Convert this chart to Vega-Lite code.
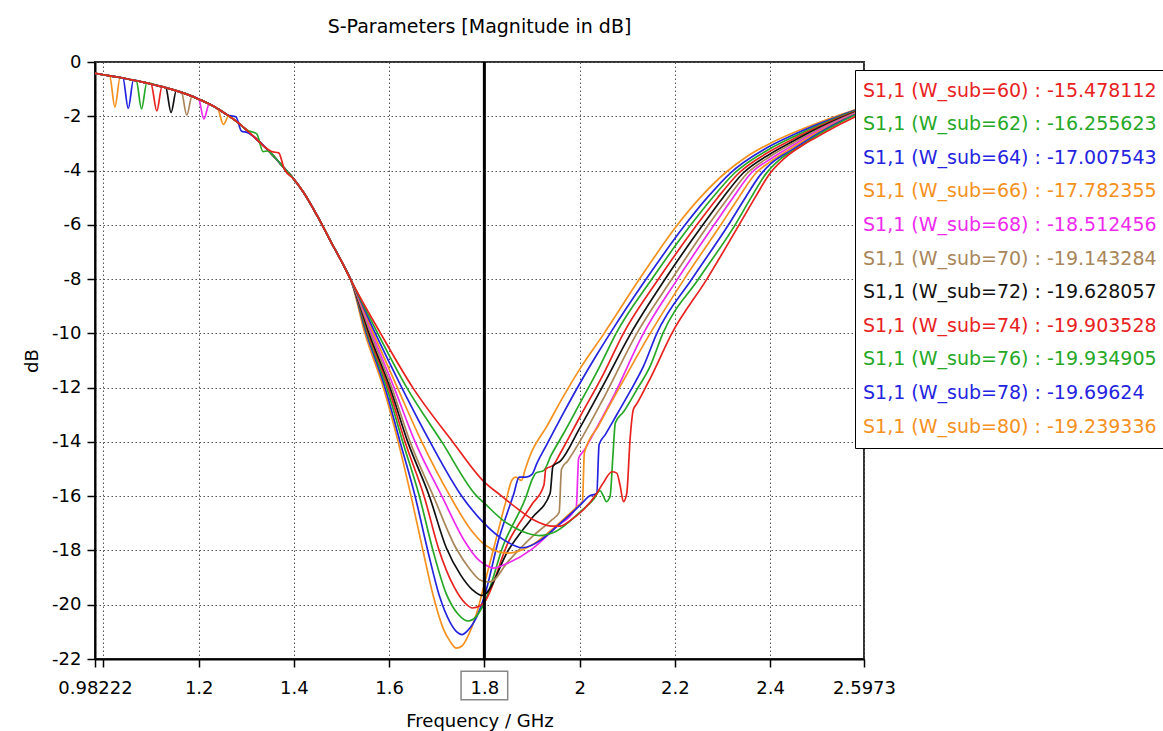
{
"$schema": "https://vega.github.io/schema/vega-lite/v6.json",
"width": 769, "height": 597,
"autosize": {"type": "none"},
"padding": {"left": 95, "top": 62, "right": 299, "bottom": 72},
"background": "white",
"title": {"text": "S-Parameters [Magnitude in dB]", "font": "DejaVu Sans", "fontSize": 19, "fontWeight": "normal", "color": "#000", "offset": 16, "anchor": "middle"},
"config": {"view": {"stroke": "#333", "strokeWidth": 2}, "font": "DejaVu Sans"},
"datasets": {
"names": [
{"w":60,"name":"S1,1 (W_sub=60) : -15.478112"},
{"w":62,"name":"S1,1 (W_sub=62) : -16.255623"},
{"w":64,"name":"S1,1 (W_sub=64) : -17.007543"},
{"w":66,"name":"S1,1 (W_sub=66) : -17.782355"},
{"w":68,"name":"S1,1 (W_sub=68) : -18.512456"},
{"w":70,"name":"S1,1 (W_sub=70) : -19.143284"},
{"w":72,"name":"S1,1 (W_sub=72) : -19.628057"},
{"w":74,"name":"S1,1 (W_sub=74) : -19.903528"},
{"w":76,"name":"S1,1 (W_sub=76) : -19.934905"},
{"w":78,"name":"S1,1 (W_sub=78) : -19.69624"},
{"w":80,"name":"S1,1 (W_sub=80) : -19.239336"}
],
"curves": [
{"w":80,"f":0.98222,"v":-0.42},{"w":80,"f":1.0,"v":-0.47},{"w":80,"f":1.013,"v":-0.51},{"w":80,"f":1.024,"v":-1.66},{"w":80,"f":1.035,"v":-0.575},{"w":80,"f":1.06,"v":-0.66},{"w":80,"f":1.08,"v":-0.73},{"w":80,"f":1.1,"v":-0.81},{"w":80,"f":1.12,"v":-0.9},{"w":80,"f":1.14,"v":-0.99},{"w":80,"f":1.16,"v":-1.1},{"w":80,"f":1.18,"v":-1.22},{"w":80,"f":1.2,"v":-1.37},{"w":80,"f":1.22,"v":-1.53},{"w":80,"f":1.24,"v":-1.72},{"w":80,"f":1.26,"v":-1.95},{"w":80,"f":1.28,"v":-2.2},{"w":80,"f":1.3,"v":-2.5},{"w":80,"f":1.32,"v":-2.82},{"w":80,"f":1.34,"v":-3.15},{"w":80,"f":1.36,"v":-3.52},{"w":80,"f":1.38,"v":-3.92},{"w":80,"f":1.4,"v":-4.32},{"w":80,"f":1.42,"v":-4.8},{"w":80,"f":1.45,"v":-5.7},{"w":80,"f":1.48,"v":-6.7},{"w":80,"f":1.5,"v":-7.35},{"w":80,"f":1.52,"v":-8.05},
{"w":80,"f":1.549,"v":-10},{"w":80,"f":1.588,"v":-12},{"w":80,"f":1.619,"v":-14},{"w":80,"f":1.646,"v":-16},{"w":80,"f":1.671,"v":-18},{"w":80,"f":1.693,"v":-19.7},{"w":80,"f":1.714,"v":-20.9},{"w":80,"f":1.728,"v":-21.35},{"w":80,"f":1.741,"v":-21.6},{"w":80,"f":1.753,"v":-21.52},{"w":80,"f":1.763,"v":-21.25},{"w":80,"f":1.784,"v":-20.3},{"w":80,"f":1.8,"v":-19.24},{"w":80,"f":1.82,"v":-17.9},{"w":80,"f":1.845,"v":-16.2},{"w":80,"f":1.858,"v":-15.4},{"w":80,"f":1.866,"v":-15.3},{"w":80,"f":1.878,"v":-15.42},{"w":80,"f":1.886,"v":-15.0},{"w":80,"f":1.896,"v":-14.5},{"w":80,"f":1.931,"v":-13.43},{"w":80,"f":1.966,"v":-12.32},{"w":80,"f":2.001,"v":-11.3},{"w":80,"f":2.0515,"v":-10},{"w":80,"f":2.1257,"v":-8},{"w":80,"f":2.2056,"v":-6},{"w":80,"f":2.2532,"v":-5},{"w":80,"f":2.305,"v":-4.1},{"w":80,"f":2.35,"v":-3.5},{"w":80,"f":2.4,"v":-3.0},{"w":80,"f":2.45,"v":-2.6},{"w":80,"f":2.5,"v":-2.25},{"w":80,"f":2.55,"v":-1.93},{"w":80,"f":2.5973,"v":-1.65},

{"w":78,"f":0.98222,"v":-0.42},{"w":78,"f":1.0,"v":-0.47},{"w":78,"f":1.02,"v":-0.53},{"w":78,"f":1.041,"v":-0.59},{"w":78,"f":1.052,"v":-1.71},{"w":78,"f":1.063,"v":-0.67},{"w":78,"f":1.08,"v":-0.73},{"w":78,"f":1.1,"v":-0.81},{"w":78,"f":1.12,"v":-0.9},{"w":78,"f":1.14,"v":-0.99},{"w":78,"f":1.16,"v":-1.1},{"w":78,"f":1.18,"v":-1.22},{"w":78,"f":1.2,"v":-1.37},{"w":78,"f":1.22,"v":-1.53},{"w":78,"f":1.24,"v":-1.72},{"w":78,"f":1.26,"v":-1.95},{"w":78,"f":1.28,"v":-2.2},{"w":78,"f":1.3,"v":-2.5},{"w":78,"f":1.32,"v":-2.82},{"w":78,"f":1.34,"v":-3.15},{"w":78,"f":1.36,"v":-3.52},{"w":78,"f":1.38,"v":-3.92},{"w":78,"f":1.4,"v":-4.32},{"w":78,"f":1.42,"v":-4.8},{"w":78,"f":1.45,"v":-5.7},{"w":78,"f":1.48,"v":-6.7},{"w":78,"f":1.5,"v":-7.35},{"w":78,"f":1.52,"v":-8.05},
{"w":78,"f":1.552,"v":-10},{"w":78,"f":1.5914,"v":-12},{"w":78,"f":1.623,"v":-14},{"w":78,"f":1.6545,"v":-16},{"w":78,"f":1.681,"v":-18},{"w":78,"f":1.706,"v":-19.7},{"w":78,"f":1.728,"v":-20.65},{"w":78,"f":1.742,"v":-21.0},{"w":78,"f":1.753,"v":-21.1},{"w":78,"f":1.765,"v":-20.95},{"w":78,"f":1.785,"v":-20.4},{"w":78,"f":1.8,"v":-19.7},{"w":78,"f":1.83,"v":-17.6},{"w":78,"f":1.862,"v":-15.9},{"w":78,"f":1.873,"v":-15.3},{"w":78,"f":1.888,"v":-15.3},{"w":78,"f":1.9,"v":-15.2},{"w":78,"f":1.91,"v":-14.8},{"w":78,"f":1.931,"v":-14.1},{"w":78,"f":1.966,"v":-12.94},{"w":78,"f":2.001,"v":-11.83},{"w":78,"f":2.036,"v":-10.79},{"w":78,"f":2.0641,"v":-10},{"w":78,"f":2.1398,"v":-8},{"w":78,"f":2.2217,"v":-6},{"w":78,"f":2.268,"v":-5},{"w":78,"f":2.316,"v":-4.1},{"w":78,"f":2.4,"v":-3.097},{"w":78,"f":2.45,"v":-2.675},{"w":78,"f":2.5,"v":-2.299},{"w":78,"f":2.55,"v":-1.96},{"w":78,"f":2.5973,"v":-1.668},

{"w":76,"f":0.98222,"v":-0.42},{"w":76,"f":1.0,"v":-0.47},{"w":76,"f":1.02,"v":-0.53},{"w":76,"f":1.04,"v":-0.59},{"w":76,"f":1.06,"v":-0.66},{"w":76,"f":1.069,"v":-0.69},{"w":76,"f":1.08,"v":-1.73},{"w":76,"f":1.091,"v":-0.77},{"w":76,"f":1.12,"v":-0.9},{"w":76,"f":1.14,"v":-0.99},{"w":76,"f":1.16,"v":-1.1},{"w":76,"f":1.18,"v":-1.22},{"w":76,"f":1.2,"v":-1.37},{"w":76,"f":1.22,"v":-1.53},{"w":76,"f":1.24,"v":-1.72},{"w":76,"f":1.26,"v":-1.95},{"w":76,"f":1.28,"v":-2.2},{"w":76,"f":1.3,"v":-2.5},{"w":76,"f":1.32,"v":-2.82},{"w":76,"f":1.34,"v":-3.15},{"w":76,"f":1.36,"v":-3.52},{"w":76,"f":1.38,"v":-3.92},{"w":76,"f":1.4,"v":-4.32},{"w":76,"f":1.42,"v":-4.8},{"w":76,"f":1.45,"v":-5.7},{"w":76,"f":1.48,"v":-6.7},{"w":76,"f":1.5,"v":-7.35},{"w":76,"f":1.52,"v":-8.05},
{"w":76,"f":1.554,"v":-10},{"w":76,"f":1.595,"v":-12},{"w":76,"f":1.6286,"v":-14},{"w":76,"f":1.6635,"v":-16},{"w":76,"f":1.692,"v":-18},{"w":76,"f":1.72,"v":-19.6},{"w":76,"f":1.745,"v":-20.35},{"w":76,"f":1.7665,"v":-20.6},{"w":76,"f":1.782,"v":-20.45},{"w":76,"f":1.8,"v":-19.93},{"w":76,"f":1.84,"v":-17.8},{"w":76,"f":1.888,"v":-16.0},{"w":76,"f":1.9,"v":-15.4},{"w":76,"f":1.908,"v":-15.15},{"w":76,"f":1.925,"v":-15.05},{"w":76,"f":1.94,"v":-14.5},{"w":76,"f":1.966,"v":-13.7},{"w":76,"f":2.0,"v":-12.6},{"w":76,"f":2.04,"v":-11.3},{"w":76,"f":2.0767,"v":-10},{"w":76,"f":2.1518,"v":-8},{"w":76,"f":2.2337,"v":-6},{"w":76,"f":2.279,"v":-5},{"w":76,"f":2.325,"v":-4.1},{"w":76,"f":2.4,"v":-3.194},{"w":76,"f":2.45,"v":-2.75},{"w":76,"f":2.5,"v":-2.348},{"w":76,"f":2.55,"v":-1.99},{"w":76,"f":2.5973,"v":-1.686},

{"w":74,"f":0.98222,"v":-0.42},{"w":74,"f":1.0,"v":-0.47},{"w":74,"f":1.02,"v":-0.53},{"w":74,"f":1.04,"v":-0.59},{"w":74,"f":1.06,"v":-0.66},{"w":74,"f":1.08,"v":-0.73},{"w":74,"f":1.1,"v":-0.81},{"w":74,"f":1.112,"v":-1.8},{"w":74,"f":1.123,"v":-0.91},{"w":74,"f":1.14,"v":-0.99},{"w":74,"f":1.16,"v":-1.1},{"w":74,"f":1.18,"v":-1.22},{"w":74,"f":1.2,"v":-1.37},{"w":74,"f":1.22,"v":-1.53},{"w":74,"f":1.24,"v":-1.72},{"w":74,"f":1.26,"v":-1.95},{"w":74,"f":1.28,"v":-2.2},{"w":74,"f":1.3,"v":-2.5},{"w":74,"f":1.32,"v":-2.82},{"w":74,"f":1.34,"v":-3.15},{"w":74,"f":1.36,"v":-3.52},{"w":74,"f":1.38,"v":-3.92},{"w":74,"f":1.4,"v":-4.32},{"w":74,"f":1.42,"v":-4.8},{"w":74,"f":1.45,"v":-5.7},{"w":74,"f":1.48,"v":-6.7},{"w":74,"f":1.5,"v":-7.35},{"w":74,"f":1.52,"v":-8.05},
{"w":74,"f":1.556,"v":-10},{"w":74,"f":1.5984,"v":-12},{"w":74,"f":1.6335,"v":-14},{"w":74,"f":1.6734,"v":-16},{"w":74,"f":1.705,"v":-18},{"w":74,"f":1.735,"v":-19.3},{"w":74,"f":1.76,"v":-19.95},{"w":74,"f":1.775,"v":-20.12},{"w":74,"f":1.79,"v":-20.05},{"w":74,"f":1.8,"v":-19.9},{"w":74,"f":1.85,"v":-17.7},{"w":74,"f":1.9,"v":-16.3},{"w":74,"f":1.925,"v":-15.6},{"w":74,"f":1.929,"v":-15.0},{"w":74,"f":1.945,"v":-14.85},{"w":74,"f":1.96,"v":-14.4},{"w":74,"f":2.0,"v":-13.1},{"w":74,"f":2.05,"v":-11.5},{"w":74,"f":2.0921,"v":-10},{"w":74,"f":2.1657,"v":-8},{"w":74,"f":2.2463,"v":-6},{"w":74,"f":2.29,"v":-5},{"w":74,"f":2.334,"v":-4.1},{"w":74,"f":2.4,"v":-3.291},{"w":74,"f":2.45,"v":-2.825},{"w":74,"f":2.5,"v":-2.397},{"w":74,"f":2.55,"v":-2.02},{"w":74,"f":2.5973,"v":-1.704},

{"w":72,"f":0.98222,"v":-0.42},{"w":72,"f":1.0,"v":-0.47},{"w":72,"f":1.02,"v":-0.53},{"w":72,"f":1.04,"v":-0.59},{"w":72,"f":1.06,"v":-0.66},{"w":72,"f":1.08,"v":-0.73},{"w":72,"f":1.1,"v":-0.81},{"w":72,"f":1.12,"v":-0.9},{"w":72,"f":1.131,"v":-0.95},{"w":72,"f":1.142,"v":-1.86},{"w":72,"f":1.153,"v":-1.06},{"w":72,"f":1.18,"v":-1.22},{"w":72,"f":1.2,"v":-1.37},{"w":72,"f":1.22,"v":-1.53},{"w":72,"f":1.24,"v":-1.72},{"w":72,"f":1.26,"v":-1.95},{"w":72,"f":1.28,"v":-2.2},{"w":72,"f":1.3,"v":-2.5},{"w":72,"f":1.32,"v":-2.82},{"w":72,"f":1.34,"v":-3.15},{"w":72,"f":1.36,"v":-3.52},{"w":72,"f":1.38,"v":-3.92},{"w":72,"f":1.4,"v":-4.32},{"w":72,"f":1.42,"v":-4.8},{"w":72,"f":1.45,"v":-5.7},{"w":72,"f":1.48,"v":-6.7},{"w":72,"f":1.5,"v":-7.35},{"w":72,"f":1.52,"v":-8.05},
{"w":72,"f":1.558,"v":-10},{"w":72,"f":1.6019,"v":-12},{"w":72,"f":1.6391,"v":-14},{"w":72,"f":1.6845,"v":-16},{"w":72,"f":1.72,"v":-17.9},{"w":72,"f":1.75,"v":-18.9},{"w":72,"f":1.775,"v":-19.45},{"w":72,"f":1.795,"v":-19.66},{"w":72,"f":1.8,"v":-19.63},{"w":72,"f":1.85,"v":-18.0},{"w":72,"f":1.9,"v":-16.8},{"w":72,"f":1.938,"v":-15.9},{"w":72,"f":1.944,"v":-14.9},{"w":72,"f":1.96,"v":-14.7},{"w":72,"f":2.0,"v":-13.5},{"w":72,"f":2.05,"v":-11.9},{"w":72,"f":2.1076,"v":-10},{"w":72,"f":2.1797,"v":-8},{"w":72,"f":2.2589,"v":-6},{"w":72,"f":2.301,"v":-5},{"w":72,"f":2.343,"v":-4.1},{"w":72,"f":2.4,"v":-3.388},{"w":72,"f":2.45,"v":-2.9},{"w":72,"f":2.5,"v":-2.446},{"w":72,"f":2.55,"v":-2.05},{"w":72,"f":2.5973,"v":-1.722},

{"w":70,"f":0.98222,"v":-0.42},{"w":70,"f":1.0,"v":-0.47},{"w":70,"f":1.02,"v":-0.53},{"w":70,"f":1.04,"v":-0.59},{"w":70,"f":1.06,"v":-0.66},{"w":70,"f":1.08,"v":-0.73},{"w":70,"f":1.1,"v":-0.81},{"w":70,"f":1.12,"v":-0.9},{"w":70,"f":1.14,"v":-0.99},{"w":70,"f":1.164,"v":-1.12},{"w":70,"f":1.175,"v":-1.96},{"w":70,"f":1.186,"v":-1.26},{"w":70,"f":1.2,"v":-1.37},{"w":70,"f":1.22,"v":-1.53},{"w":70,"f":1.24,"v":-1.72},{"w":70,"f":1.26,"v":-1.95},{"w":70,"f":1.28,"v":-2.2},{"w":70,"f":1.3,"v":-2.5},{"w":70,"f":1.32,"v":-2.82},{"w":70,"f":1.34,"v":-3.15},{"w":70,"f":1.36,"v":-3.52},{"w":70,"f":1.38,"v":-3.92},{"w":70,"f":1.4,"v":-4.32},{"w":70,"f":1.42,"v":-4.8},{"w":70,"f":1.45,"v":-5.7},{"w":70,"f":1.48,"v":-6.7},{"w":70,"f":1.5,"v":-7.35},{"w":70,"f":1.52,"v":-8.05},
{"w":70,"f":1.561,"v":-10},{"w":70,"f":1.6055,"v":-12},{"w":70,"f":1.644,"v":-14},{"w":70,"f":1.6929,"v":-16},{"w":70,"f":1.74,"v":-17.9},{"w":70,"f":1.77,"v":-18.7},{"w":70,"f":1.79,"v":-19.08},{"w":70,"f":1.8,"v":-19.14},{"w":70,"f":1.812,"v":-19.16},{"w":70,"f":1.85,"v":-18.4},{"w":70,"f":1.9,"v":-17.5},{"w":70,"f":1.94,"v":-16.9},{"w":70,"f":1.957,"v":-16.6},{"w":70,"f":1.962,"v":-15.0},{"w":70,"f":1.975,"v":-14.7},{"w":70,"f":2.0,"v":-14.0},{"w":70,"f":2.05,"v":-12.4},{"w":70,"f":2.1202,"v":-10},{"w":70,"f":2.1938,"v":-8},{"w":70,"f":2.2707,"v":-6},{"w":70,"f":2.312,"v":-5},{"w":70,"f":2.352,"v":-4.1},{"w":70,"f":2.4,"v":-3.485},{"w":70,"f":2.45,"v":-2.975},{"w":70,"f":2.5,"v":-2.495},{"w":70,"f":2.55,"v":-2.08},{"w":70,"f":2.5973,"v":-1.74},

{"w":68,"f":0.98222,"v":-0.42},{"w":68,"f":1.0,"v":-0.47},{"w":68,"f":1.02,"v":-0.53},{"w":68,"f":1.04,"v":-0.59},{"w":68,"f":1.06,"v":-0.66},{"w":68,"f":1.08,"v":-0.73},{"w":68,"f":1.1,"v":-0.81},{"w":68,"f":1.12,"v":-0.9},{"w":68,"f":1.14,"v":-0.99},{"w":68,"f":1.16,"v":-1.1},{"w":68,"f":1.18,"v":-1.22},{"w":68,"f":1.2,"v":-1.37},{"w":68,"f":1.211,"v":-2.1},{"w":68,"f":1.222,"v":-1.55},{"w":68,"f":1.24,"v":-1.72},{"w":68,"f":1.26,"v":-1.95},{"w":68,"f":1.28,"v":-2.2},{"w":68,"f":1.3,"v":-2.5},{"w":68,"f":1.32,"v":-2.82},{"w":68,"f":1.34,"v":-3.15},{"w":68,"f":1.36,"v":-3.52},{"w":68,"f":1.38,"v":-3.92},{"w":68,"f":1.4,"v":-4.32},{"w":68,"f":1.42,"v":-4.8},{"w":68,"f":1.45,"v":-5.7},{"w":68,"f":1.48,"v":-6.7},{"w":68,"f":1.5,"v":-7.35},{"w":68,"f":1.52,"v":-8.05},
{"w":68,"f":1.564,"v":-10},{"w":68,"f":1.6104,"v":-12},{"w":68,"f":1.6545,"v":-14},{"w":68,"f":1.7106,"v":-16},{"w":68,"f":1.76,"v":-17.7},{"w":68,"f":1.785,"v":-18.3},{"w":68,"f":1.8,"v":-18.51},{"w":68,"f":1.82,"v":-18.65},{"w":68,"f":1.845,"v":-18.5},{"w":68,"f":1.9,"v":-17.95},{"w":68,"f":1.95,"v":-17.15},{"w":68,"f":1.993,"v":-16.4},{"w":68,"f":1.998,"v":-14.6},{"w":68,"f":2.01,"v":-14.3},{"w":68,"f":2.022,"v":-13.92},{"w":68,"f":2.071,"v":-12.32},{"w":68,"f":2.1341,"v":-10},{"w":68,"f":2.2056,"v":-8},{"w":68,"f":2.2826,"v":-6},{"w":68,"f":2.322,"v":-5},{"w":68,"f":2.36,"v":-4.1},{"w":68,"f":2.4,"v":-3.582},{"w":68,"f":2.45,"v":-3.05},{"w":68,"f":2.5,"v":-2.544},{"w":68,"f":2.55,"v":-2.11},{"w":68,"f":2.5973,"v":-1.758},

{"w":66,"f":0.98222,"v":-0.42},{"w":66,"f":1.0,"v":-0.47},{"w":66,"f":1.02,"v":-0.53},{"w":66,"f":1.04,"v":-0.59},{"w":66,"f":1.06,"v":-0.66},{"w":66,"f":1.08,"v":-0.73},{"w":66,"f":1.1,"v":-0.81},{"w":66,"f":1.12,"v":-0.9},{"w":66,"f":1.14,"v":-0.99},{"w":66,"f":1.16,"v":-1.1},{"w":66,"f":1.18,"v":-1.22},{"w":66,"f":1.2,"v":-1.37},{"w":66,"f":1.22,"v":-1.53},{"w":66,"f":1.24,"v":-1.72},{"w":66,"f":1.252,"v":-2.3},{"w":66,"f":1.263,"v":-1.99},{"w":66,"f":1.28,"v":-2.2},{"w":66,"f":1.3,"v":-2.5},{"w":66,"f":1.32,"v":-2.82},{"w":66,"f":1.34,"v":-3.15},{"w":66,"f":1.36,"v":-3.52},{"w":66,"f":1.38,"v":-3.92},{"w":66,"f":1.4,"v":-4.32},{"w":66,"f":1.42,"v":-4.8},{"w":66,"f":1.45,"v":-5.7},{"w":66,"f":1.48,"v":-6.7},{"w":66,"f":1.5,"v":-7.35},{"w":66,"f":1.52,"v":-8.05},
{"w":66,"f":1.567,"v":-10},{"w":66,"f":1.6173,"v":-12},{"w":66,"f":1.6685,"v":-14},{"w":66,"f":1.728,"v":-16},{"w":66,"f":1.77,"v":-17.2},{"w":66,"f":1.8,"v":-17.78},{"w":66,"f":1.83,"v":-18.05},{"w":66,"f":1.85,"v":-18.1},{"w":66,"f":1.9,"v":-17.8},{"w":66,"f":1.95,"v":-17.1},{"w":66,"f":2.0,"v":-16.3},{"w":66,"f":2.006,"v":-16.2},{"w":66,"f":2.01,"v":-14.4},{"w":66,"f":2.04,"v":-13.4},{"w":66,"f":2.09,"v":-11.8},{"w":66,"f":2.1482,"v":-10},{"w":66,"f":2.2196,"v":-8},{"w":66,"f":2.2967,"v":-6},{"w":66,"f":2.334,"v":-5},{"w":66,"f":2.37,"v":-4.1},{"w":66,"f":2.4,"v":-3.679},{"w":66,"f":2.45,"v":-3.125},{"w":66,"f":2.5,"v":-2.593},{"w":66,"f":2.55,"v":-2.14},{"w":66,"f":2.5973,"v":-1.776},

{"w":64,"f":0.98222,"v":-0.42},{"w":64,"f":1.0,"v":-0.47},{"w":64,"f":1.02,"v":-0.53},{"w":64,"f":1.04,"v":-0.59},{"w":64,"f":1.06,"v":-0.66},{"w":64,"f":1.08,"v":-0.73},{"w":64,"f":1.1,"v":-0.81},{"w":64,"f":1.12,"v":-0.9},{"w":64,"f":1.14,"v":-0.99},{"w":64,"f":1.16,"v":-1.1},{"w":64,"f":1.18,"v":-1.22},{"w":64,"f":1.2,"v":-1.37},{"w":64,"f":1.22,"v":-1.53},{"w":64,"f":1.24,"v":-1.72},{"w":64,"f":1.26,"v":-1.95},{"w":64,"f":1.278,"v":-2.02},{"w":64,"f":1.29,"v":-2.55},{"w":64,"f":1.302,"v":-2.6},{"w":64,"f":1.32,"v":-2.82},{"w":64,"f":1.34,"v":-3.15},{"w":64,"f":1.36,"v":-3.52},{"w":64,"f":1.38,"v":-3.92},{"w":64,"f":1.4,"v":-4.32},{"w":64,"f":1.42,"v":-4.8},{"w":64,"f":1.45,"v":-5.7},{"w":64,"f":1.48,"v":-6.7},{"w":64,"f":1.5,"v":-7.35},{"w":64,"f":1.52,"v":-8.05},
{"w":64,"f":1.571,"v":-10},{"w":64,"f":1.6265,"v":-12},{"w":64,"f":1.686,"v":-14},{"w":64,"f":1.7526,"v":-16},{"w":64,"f":1.8,"v":-17.01},{"w":64,"f":1.84,"v":-17.6},{"w":64,"f":1.88,"v":-17.9},{"w":64,"f":1.92,"v":-17.6},{"w":64,"f":1.95,"v":-17.15},{"w":64,"f":2.0,"v":-16.35},{"w":64,"f":2.02,"v":-16.0},{"w":64,"f":2.036,"v":-15.9},{"w":64,"f":2.041,"v":-14.1},{"w":64,"f":2.054,"v":-13.73},{"w":64,"f":2.078,"v":-13.0},{"w":64,"f":2.106,"v":-12.14},{"w":64,"f":2.134,"v":-11.22},{"w":64,"f":2.1622,"v":-10},{"w":64,"f":2.2358,"v":-8},{"w":64,"f":2.3127,"v":-6},{"w":64,"f":2.348,"v":-5},{"w":64,"f":2.38,"v":-4.15},{"w":64,"f":2.4,"v":-3.776},{"w":64,"f":2.45,"v":-3.2},{"w":64,"f":2.5,"v":-2.642},{"w":64,"f":2.55,"v":-2.17},{"w":64,"f":2.5973,"v":-1.794},

{"w":62,"f":0.98222,"v":-0.42},{"w":62,"f":1.0,"v":-0.47},{"w":62,"f":1.02,"v":-0.53},{"w":62,"f":1.04,"v":-0.59},{"w":62,"f":1.06,"v":-0.66},{"w":62,"f":1.08,"v":-0.73},{"w":62,"f":1.1,"v":-0.81},{"w":62,"f":1.12,"v":-0.9},{"w":62,"f":1.14,"v":-0.99},{"w":62,"f":1.16,"v":-1.1},{"w":62,"f":1.18,"v":-1.22},{"w":62,"f":1.2,"v":-1.37},{"w":62,"f":1.22,"v":-1.53},{"w":62,"f":1.24,"v":-1.72},{"w":62,"f":1.26,"v":-1.95},{"w":62,"f":1.28,"v":-2.2},{"w":62,"f":1.3,"v":-2.5},{"w":62,"f":1.322,"v":-2.65},{"w":62,"f":1.335,"v":-3.3},{"w":62,"f":1.345,"v":-3.28},{"w":62,"f":1.36,"v":-3.52},{"w":62,"f":1.38,"v":-3.92},{"w":62,"f":1.4,"v":-4.32},{"w":62,"f":1.42,"v":-4.8},{"w":62,"f":1.45,"v":-5.7},{"w":62,"f":1.48,"v":-6.7},{"w":62,"f":1.5,"v":-7.35},{"w":62,"f":1.52,"v":-8.05},
{"w":62,"f":1.576,"v":-10},{"w":62,"f":1.637,"v":-12},{"w":62,"f":1.7106,"v":-14},{"w":62,"f":1.7841,"v":-16},{"w":62,"f":1.8,"v":-16.26},{"w":62,"f":1.84,"v":-16.9},{"w":62,"f":1.88,"v":-17.3},{"w":62,"f":1.915,"v":-17.45},{"w":62,"f":1.95,"v":-17.3},{"w":62,"f":2.0,"v":-16.6},{"w":62,"f":2.03,"v":-16.1},{"w":62,"f":2.043,"v":-15.8},{"w":62,"f":2.05,"v":-16.0},{"w":62,"f":2.056,"v":-16.2},{"w":62,"f":2.064,"v":-16.0},{"w":62,"f":2.07,"v":-14.5},{"w":62,"f":2.075,"v":-13.3},{"w":62,"f":2.092,"v":-12.9},{"w":62,"f":2.12,"v":-12.08},{"w":62,"f":2.148,"v":-11.22},{"w":62,"f":2.1749,"v":-10},{"w":62,"f":2.2497,"v":-8},{"w":62,"f":2.3267,"v":-6},{"w":62,"f":2.36,"v":-5},{"w":62,"f":2.39,"v":-4.15},{"w":62,"f":2.42,"v":-3.6},{"w":62,"f":2.46,"v":-3.15},{"w":62,"f":2.5,"v":-2.691},{"w":62,"f":2.55,"v":-2.2},{"w":62,"f":2.5973,"v":-1.812},

{"w":60,"f":0.98222,"v":-0.42},{"w":60,"f":1.0,"v":-0.47},{"w":60,"f":1.02,"v":-0.53},{"w":60,"f":1.04,"v":-0.59},{"w":60,"f":1.06,"v":-0.66},{"w":60,"f":1.08,"v":-0.73},{"w":60,"f":1.1,"v":-0.81},{"w":60,"f":1.12,"v":-0.9},{"w":60,"f":1.14,"v":-0.99},{"w":60,"f":1.16,"v":-1.1},{"w":60,"f":1.18,"v":-1.22},{"w":60,"f":1.2,"v":-1.37},{"w":60,"f":1.22,"v":-1.53},{"w":60,"f":1.24,"v":-1.72},{"w":60,"f":1.26,"v":-1.95},{"w":60,"f":1.28,"v":-2.2},{"w":60,"f":1.3,"v":-2.5},{"w":60,"f":1.32,"v":-2.82},{"w":60,"f":1.34,"v":-3.15},{"w":60,"f":1.353,"v":-3.3},{"w":60,"f":1.368,"v":-3.35},{"w":60,"f":1.38,"v":-3.95},{"w":60,"f":1.4,"v":-4.32},{"w":60,"f":1.42,"v":-4.8},{"w":60,"f":1.45,"v":-5.7},{"w":60,"f":1.48,"v":-6.7},{"w":60,"f":1.5,"v":-7.35},{"w":60,"f":1.52,"v":-8.05},
{"w":60,"f":1.582,"v":-10},{"w":60,"f":1.6496,"v":-12},{"w":60,"f":1.7337,"v":-14},{"w":60,"f":1.8,"v":-15.48},{"w":60,"f":1.833,"v":-15.95},{"w":60,"f":1.868,"v":-16.44},{"w":60,"f":1.903,"v":-16.87},{"w":60,"f":1.94,"v":-17.1},{"w":60,"f":1.96,"v":-17.1},{"w":60,"f":1.98,"v":-16.9},{"w":60,"f":2.008,"v":-16.5},{"w":60,"f":2.036,"v":-15.9},{"w":60,"f":2.05,"v":-15.5},{"w":60,"f":2.068,"v":-15.1},{"w":60,"f":2.078,"v":-15.15},{"w":60,"f":2.085,"v":-15.6},{"w":60,"f":2.092,"v":-16.2},{"w":60,"f":2.099,"v":-15.9},{"w":60,"f":2.106,"v":-13.9},{"w":60,"f":2.113,"v":-12.8},{"w":60,"f":2.12,"v":-12.6},{"w":60,"f":2.15,"v":-11.6},{"w":60,"f":2.1938,"v":-10},{"w":60,"f":2.2673,"v":-8},{"w":60,"f":2.335,"v":-6},{"w":60,"f":2.37,"v":-4.95},{"w":60,"f":2.4,"v":-4.1},{"w":60,"f":2.43,"v":-3.55},{"w":60,"f":2.47,"v":-3.05},{"w":60,"f":2.5,"v":-2.75},{"w":60,"f":2.55,"v":-2.27},{"w":60,"f":2.5973,"v":-1.86}
]
},
"layer": [
{
"data": {"name": "curves"},
"transform": [{"lookup": "w", "from": {"data": {"name": "names"}, "key": "w", "fields": ["name"]}}],
"mark": {"type": "line", "strokeWidth": 1.7, "interpolate": "monotone", "clip": true},
"encoding": {
"x": {"field": "f", "type": "quantitative",
 "scale": {"domain": [0.98222, 2.5973], "nice": false, "zero": false},
 "axis": {"values": [0.98222, 1, 1.2, 1.4, 1.6, 1.8, 2, 2.2, 2.4, 2.5973],
  "labelExpr": "datum.value == 1 ? '' : '' + datum.value",
  "title": "Frequency / GHz", "titleFont": "DejaVu Sans", "titleFontSize": 18, "titleFontWeight": "normal", "titleColor": "#000", "titlePadding": 15,
  "labelFont": "DejaVu Sans", "labelFontSize": 18, "labelColor": "#000", "labelPadding": 12, "labelOverlap": false, "labelFlush": false, "labelBound": false,
  "tickSize": 8, "tickColor": "#000", "tickWidth": 1.5, "domainColor": "#000", "domainWidth": 2,
  "grid": true, "gridColor": "#555", "gridDash": [1.5, 2.5], "gridWidth": 1}},
"y": {"field": "v", "type": "quantitative",
 "scale": {"domain": [-22, 0], "nice": false, "zero": false},
 "axis": {"values": [-22, -20, -18, -16, -14, -12, -10, -8, -6, -4, -2, 0],
  "labelExpr": "'' + datum.value",
  "title": "dB", "titleFont": "DejaVu Sans", "titleFontSize": 18, "titleFontWeight": "normal", "titleColor": "#000", "titlePadding": 10,
  "labelFont": "DejaVu Sans", "labelFontSize": 18, "labelColor": "#000", "labelPadding": 6, "labelOverlap": false, "labelFlush": false,
  "tickSize": 8, "tickColor": "#000", "tickWidth": 1.5, "domainColor": "#000", "domainWidth": 2,
  "grid": true, "gridColor": "#555", "gridDash": [1.5, 2.5], "gridWidth": 1}},
"color": {"field": "name", "type": "nominal",
 "scale": {"domain": ["S1,1 (W_sub=60) : -15.478112","S1,1 (W_sub=62) : -16.255623","S1,1 (W_sub=64) : -17.007543","S1,1 (W_sub=66) : -17.782355","S1,1 (W_sub=68) : -18.512456","S1,1 (W_sub=70) : -19.143284","S1,1 (W_sub=72) : -19.628057","S1,1 (W_sub=74) : -19.903528","S1,1 (W_sub=76) : -19.934905","S1,1 (W_sub=78) : -19.69624","S1,1 (W_sub=80) : -19.239336"],
  "range": ["#e8221e","#26a826","#2424e0","#f5911e","#ee2aee","#a8865a","#111111","#e8221e","#26a826","#2424e0","#f5911e"]},
 "legend": {"orient": "none", "legendX": 760, "legendY": 8, "title": null,
  "fillColor": "white", "strokeColor": "#000", "padding": 11,
  "labelFont": "DejaVu Sans", "labelFontSize": 19, "labelLimit": 1000,
  "labelColor": {"expr": "scale('color', datum.value)"},
  "symbolSize": 0, "symbolStrokeWidth": 0, "symbolOpacity": 0, "labelOffset": -22, "rowPadding": 13.6}}
}
},
{
"data": {"values": [{"f": 1.8}]},
"mark": {"type": "rule", "color": "#000", "strokeWidth": 3},
"encoding": {"x": {"field": "f", "type": "quantitative"}}
},
{
"data": {"values": [{}]},
"mark": {"type": "rect", "fill": null, "stroke": "#888", "strokeWidth": 1.5, "clip": false},
"encoding": {"x": {"datum": 1.751}, "x2": {"datum": 1.849}, "y": {"datum": -22.45}, "y2": {"datum": -23.5}}
}
]
}
